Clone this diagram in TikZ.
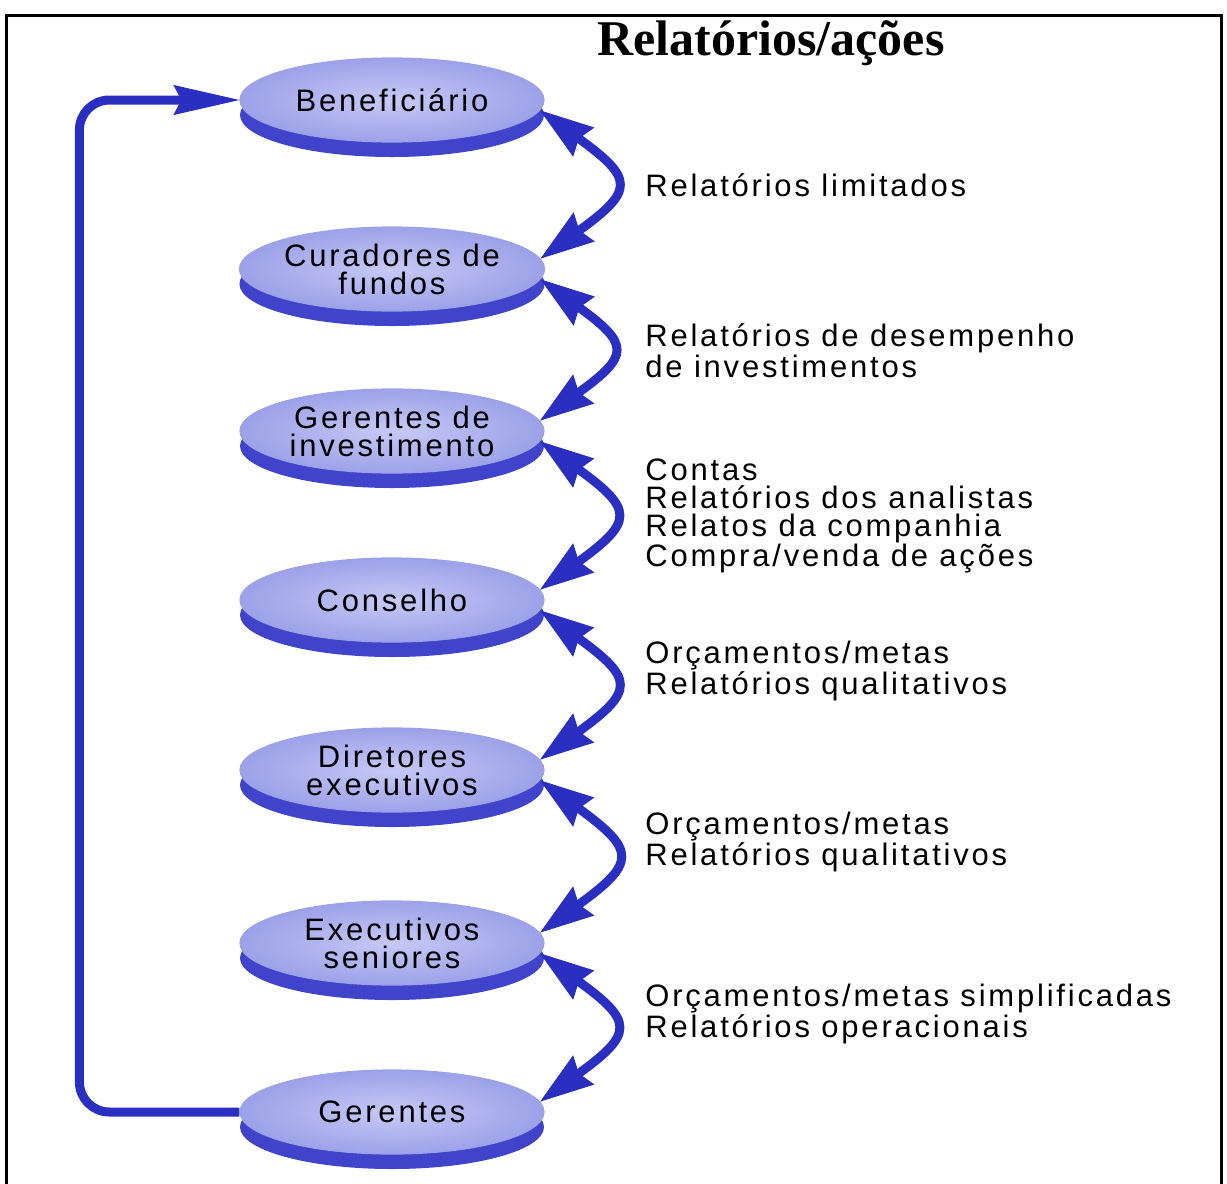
\documentclass[tikz,border=0pt]{standalone}
\usepackage{fontspec}
\setmainfont{Liberation Sans}[LetterSpace=9]
\newfontfamily\titlefont{Liberation Serif}
\usepackage{tikz}
\usetikzlibrary{arrows.meta,shapes.geometric,shadows}
\definecolor{arrowBl}{HTML}{2B2FC1}
\definecolor{rimBl}  {HTML}{3F44CB}
\definecolor{lavLt}  {HTML}{C6C9F6}
\definecolor{lavDk}  {HTML}{9DA1E8}

\begin{document}
\begin{tikzpicture}[x=0.5pt,y=0.5pt,
   stage/.style={ellipse, minimum width=152pt, minimum height=42pt, inner sep=0pt,
                 shading=radial, inner color=lavLt, outer color=lavDk,
                 draw=lavDk, line width=0.6pt,
                 drop shadow={shadow xshift=0pt, shadow yshift=-7.5pt, opacity=1, fill=rimBl},
                 align=center, font=\fontsize{15.5}{14}\selectfont},
   info/.style={anchor=west, align=left, inner sep=0pt, font=\fontsize{15.5}{14}\selectfont},
   flow/.style={draw=arrowBl, line width=4.5pt,
                {Stealth[length=27pt,width=18pt,inset=3pt,line width=0.5pt]}-{Stealth[length=27pt,width=18pt,inset=3pt,line width=0.5pt]}},
   back/.style={draw=arrowBl, line width=4.5pt, rounded corners=15pt,
                -{Stealth[length=33pt,width=15pt,inset=4pt,line width=0.5pt]}}
]
\useasboundingbox (0,0) rectangle (1227,-1184);
\clip (0,0) rectangle (1227,-1184);
\draw[line width=1.5pt] (6,-1190) -- (6,-15) -- (1221,-15) -- (1221,-1190);

\node[font=\titlefont\bfseries\fontsize{25}{25}\selectfont, anchor=base] (title) at (771,-55) {Relatórios/ações};

\foreach \n/\y/\txt in {benef/100/Beneficiário, curad/269/{Curadores de\\fundos},
                        gerinv/431/{Gerentes de\\investimento}, consel/600/Conselho,
                        dirxec/770/{Diretores\\executivos}, execsr/943/{Executivos\\seniores},
                        geren/1112/Gerentes}{
  \node[stage] (\n) at (392,-\y) {\txt};
}
\foreach \a/\b in {benef/curad, curad/gerinv, gerinv/consel, consel/dirxec,
                   dirxec/execsr, execsr/geren}{
  \draw[flow] (\a.-4) to[out=-36,in=36,looseness=2] (\b.4);
}
\draw[back] (geren.west) -- ++(-160,0) |- (benef.west);

\node[info] (lim)    at (645,-185)  {Relatórios limitados};
\node[info] (desemp) at (645,-351)  {Relatórios de desempenho\\de investimentos};
\node[info] (contas) at (645,-516)  {Contas\\Relatórios dos analistas\\Relatos da companhia\\Compra/venda de ações};
\node[info] (orcA)   at (645,-671)  {Orçamentos/metas\\Relatórios qualitativos};
\node[info] (orcB)   at (645,-842)  {Orçamentos/metas\\Relatórios qualitativos};
\node[info] (orcC)   at (645,-1014) {Orçamentos/metas simplificadas\\Relatórios operacionais};
\end{tikzpicture}
\end{document}
